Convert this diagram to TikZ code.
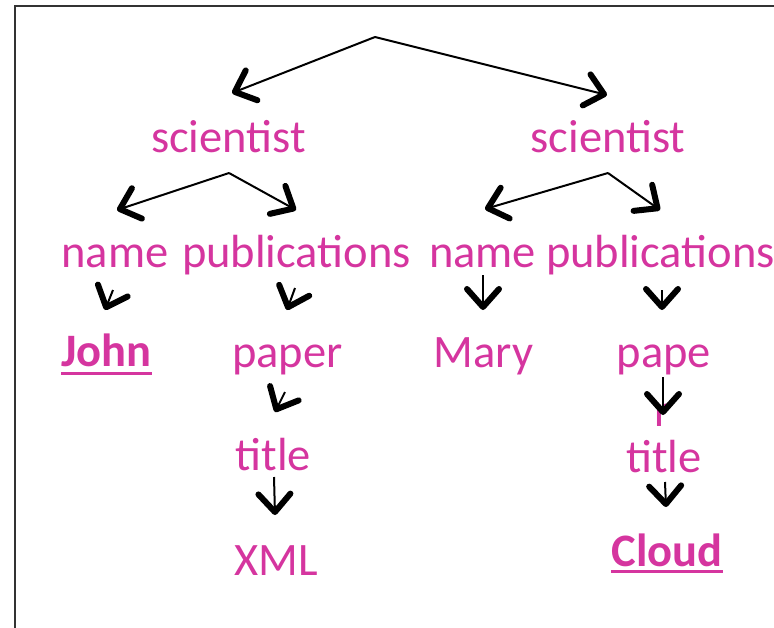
\documentclass[tikz,border=0pt]{standalone}
\usepackage{fontspec}
\setmainfont{Carlito}
\usetikzlibrary{arrows.meta}
\definecolor{lbl}{HTML}{D5359F}
\begin{document}
\begin{tikzpicture}[x=1pt,y=-1pt,
  lbl/.style={text=lbl, font=\fontsize{46.5}{56}\selectfont, inner sep=0pt, anchor=base},
  key/.style={lbl, font=\fontsize{46.5}{56}\selectfont\bfseries},
  ul/.style={draw=lbl, line width=3pt},
  link/.style={draw=black, line width=2pt,
    -{Straight Barb[length=18pt,width=32pt,line width=6pt,round]}},
  frame/.style={draw=black!80, line width=2pt}]
\useasboundingbox (0,0) rectangle (774,627);
\clip (0,0) rectangle (774,627);
\draw[frame] (15,640) -- (15,6) -- (790,6);

% labels
\node[lbl] (sciL) at (228.5,152) {scientist};
\node[lbl] (sciR) at (608,152) {scientist};
\node[lbl] (nameL) at (115,267) {name};
\node[lbl] (pubL) at (296.5,267) {publications};
\node[lbl] (nameR) at (482.5,267) {name};
\node[lbl] (pubR) at (660.5,267) {publications};
\node[key] (john) at (106.5,366) {John};
\node[lbl] (paperL) at (287.5,367) {paper};
\node[lbl] (mary) at (483.5,367) {Mary};
\node[lbl] (paperR) at (664,367) {pape};
\node[lbl, anchor=base west] (paperRr) at (654,426) {r};
\node[lbl] (titleL) at (273.5,470) {title};
\node[lbl] (titleR) at (664,472) {title};
\node[lbl] (xml) at (276.5,575) {XML};
\node[key] (cloud) at (667,566) {Cloud};

% underlines of the key values
\draw[ul] ([yshift=-7pt]john.base west) -- ([yshift=-7pt]john.base east);
\draw[ul] ([yshift=-5pt]cloud.base west) -- ([yshift=-5pt]cloud.base east);

% fork points and arrow ends
\coordinate (rootfork) at (375,37);
\coordinate (toSciL) at (232,93);
\coordinate (toSciR) at (607,95);
\coordinate (forkL) at (229,173);
\coordinate (toNameL) at (117,210);
\coordinate (toPubL) at (296,210);
\coordinate (forkR) at (608,173);
\coordinate (toNameR) at (485,209);
\coordinate (toPubR) at (660,210);

\coordinate (nameLout) at (113,290);  \coordinate (toJohn) at (105,310);
\coordinate (pubLout) at (295,288);   \coordinate (toPaperL) at (287,310);
\coordinate (nameRout) at (483,275);  \coordinate (toMary) at (483,310);
\coordinate (pubRout) at (662,290);   \coordinate (toPaperR) at (662,310);
\coordinate (paperLout) at (285,392); \coordinate (toTitleL) at (275,412);
\coordinate (titleLout) at (274,477); \coordinate (toXml) at (275,515);
\coordinate (paperRout) at (663,377); \coordinate (toTitleR) at (663,415);
\coordinate (titleRout) at (665,482); \coordinate (toCloud) at (666,507);

% connectors
\draw[link] (rootfork) -- (toSciL);
\draw[link] (rootfork) -- (toSciR);
\draw[link] (forkL) -- (toNameL);
\draw[link] (forkL) -- (toPubL);
\draw[link] (forkR) -- (toNameR);
\draw[link] (forkR) -- (toPubR);
\draw[link] (nameLout) -- (toJohn);
\draw[link] (pubLout) -- (toPaperL);
\draw[link] (nameRout) -- (toMary);
\draw[link] (pubRout) -- (toPaperR);
\draw[link] (paperLout) -- (toTitleL);
\draw[link] (titleLout) -- (toXml);
\draw[link] (paperRout) -- (toTitleR);
\draw[link] (titleRout) -- (toCloud);
\end{tikzpicture}
\end{document}
